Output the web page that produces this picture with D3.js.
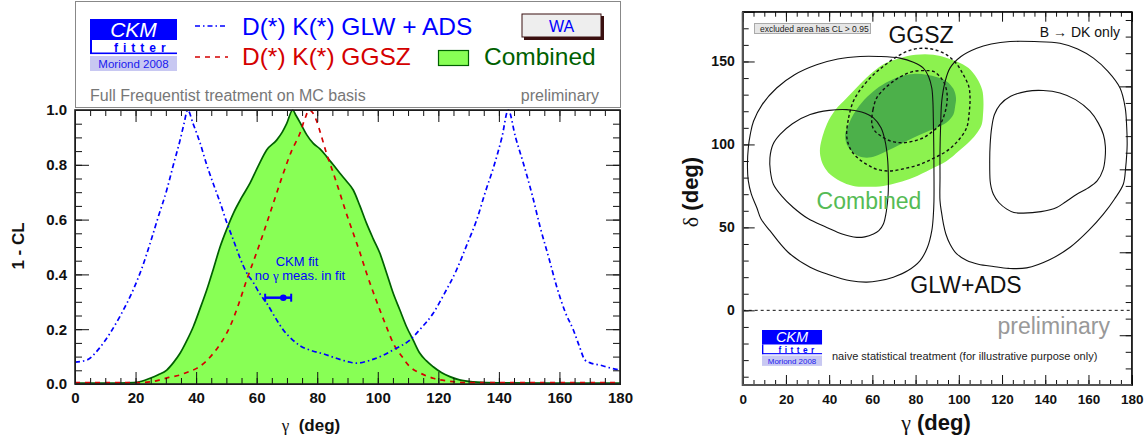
<!DOCTYPE html>
<html>
<head>
<meta charset="utf-8">
<script src="https://cdn.jsdelivr.net/npm/d3@7"></script>
<style>
body { margin: 0; background: #fff; }
svg { display: block; }
text { font-family: "Liberation Sans", Arial, Helvetica, sans-serif; }
</style>
</head>
<body>
<div id="main"></div>
<script>
// ---- left plot: 1 - CL vs gamma ----
var glwCurve = [[0,0.08],[4,0.088],[8,0.13],[11.6,0.186],[15,0.25],[19.2,0.343],[22,0.42],[24.8,0.513],[27.5,0.61],[30.3,0.708],[32.5,0.8],[34.7,0.89],[36,0.95],[37.2,1.0],[39,0.95],[41.3,0.88],[43.5,0.8],[45.7,0.73],[48,0.66],[50.1,0.59],[52.5,0.52],[54.5,0.46],[56.5,0.41],[58.9,0.37],[61,0.33],[63.3,0.295],[66,0.245],[68.8,0.197],[71.5,0.165],[74.3,0.14],[78,0.122],[82,0.11],[86,0.095],[90,0.082],[93,0.076],[97,0.085],[101.8,0.105],[106,0.13],[110.6,0.16],[114,0.2],[118.3,0.258],[122,0.33],[126,0.416],[129.5,0.51],[132.7,0.6],[135.5,0.7],[138.2,0.79],[141,0.9],[143.1,1.0],[145.5,0.9],[148.1,0.805],[151,0.69],[153.6,0.574],[156.5,0.46],[159.1,0.355],[162,0.26],[164.6,0.197],[166.5,0.14],[168.4,0.088],[170,0.078],[173.4,0.069],[177,0.058],[180,0.051]]
var ggszCurve = [[0,0.005],[10,0.005],[20,0.005],[25,0.008],[28,0.015],[31,0.024],[34.7,0.033],[37.5,0.045],[40.2,0.057],[43,0.08],[45.7,0.112],[48.5,0.155],[51.2,0.21],[54,0.29],[56.7,0.38],[59.5,0.465],[62.2,0.55],[65.5,0.66],[68.8,0.769],[71.5,0.85],[74.3,0.915],[76,0.97],[77.3,1.0],[78.5,0.99],[79.8,0.96],[81.5,0.9],[83.1,0.84],[85.3,0.77],[87.5,0.696],[89.7,0.62],[91.9,0.55],[94.1,0.48],[96.3,0.404],[98.5,0.335],[100.7,0.27],[103,0.205],[105.1,0.149],[108,0.1],[110.6,0.063],[114,0.04],[118.3,0.021],[123,0.011],[129.3,0.005],[180,0.005]]
var combCurve = [[0,0.003],[10,0.003],[19.3,0.005],[22,0.01],[24.8,0.021],[27.5,0.034],[30.3,0.051],[32.5,0.078],[34.7,0.112],[37,0.16],[39.1,0.21],[41.3,0.275],[43.5,0.343],[45.7,0.42],[47.9,0.5],[50.1,0.565],[52.3,0.623],[55,0.68],[57.8,0.733],[60.5,0.795],[63.3,0.854],[66.6,0.89],[68.5,0.92],[69.9,0.95],[71.9,1.0],[73,0.98],[74.3,0.955],[76.5,0.91],[78.7,0.878],[80.9,0.858],[83.1,0.83],[85.3,0.8],[87.5,0.769],[89.7,0.74],[91.9,0.708],[94.1,0.65],[96.3,0.586],[98.5,0.53],[100.7,0.477],[102.9,0.405],[105.1,0.331],[107.3,0.27],[109.5,0.209],[111.7,0.16],[113.9,0.112],[116,0.085],[118.3,0.063],[121,0.042],[123.8,0.027],[127,0.015],[131.5,0.008],[140,0.004],[180,0.003]]
var ckmFit = { gamma: 68.8, lo: 62.8, hi: 71.4, cl: 0.315 }

var gammaMajor = d3.range(0, 181, 20)
var gammaMinor = d3.range(0, 181, 5)
var clMajor = [0, 0.2, 0.4, 0.6, 0.8, 1.0]
var clMinor = d3.range(0, 1.001, 0.05)

// ---- right plot: delta vs gamma, contour outlines ----
var glwOuterLeft = [[2.2,88],[2.6,98],[3.5,106],[5,114],[9,124],[15.7,134],[24,142],[34.2,148],[44,151.5],[54.3,153],[63,153],[72.8,152],[79,149.5],[83.6,146],[86,141],[87.5,134],[88,126],[88.2,116],[88.4,100],[88.5,85],[88.5,66],[88.2,57],[87.5,48],[85.5,38],[82.1,30],[76.5,24],[69.7,20],[63,17.8],[57.4,17],[50,17.8],[40,21.5],[31.2,26],[21,35],[12.6,48],[8.5,55],[6.5,62],[4,70],[2.6,78]]
var glwInnerLeft = [[12.6,92],[14,100],[17.3,106],[23,112.5],[31.2,118],[40,120.5],[48.1,121],[55,119.5],[60.5,116],[64,110],[65.9,102],[67,92],[67.4,80],[67.3,70],[66.5,60],[65.1,52],[63,48],[60.5,46],[56.5,44.3],[52.8,44],[46,46],[38.9,50],[30,55.5],[23.4,62],[18,69],[14.2,76],[12.8,84]]
var glwOuterRight = [[91.3,66],[91.3,80],[91.3,96],[91.6,112],[92.1,126],[93.5,137],[95.9,146],[101,153],[108.3,158],[115,160.5],[123.7,162],[135,162],[146.8,161],[155,157.5],[162.3,152],[169,144],[174.6,134],[177,122],[177.7,110],[177.9,100],[177.7,94],[177.2,86],[176.1,76],[172,67],[166.9,58],[160,48],[151.5,38],[142,30.5],[131.4,25.6],[123,25.3],[116,26.4],[109,27.8],[103.7,30],[98.7,34.5],[95.9,40],[94,46],[92.9,52],[92,59]]
var glwInnerRight = [[114.5,78],[114.3,90],[114.5,100],[115.2,110],[116.5,118],[119.1,124],[124,129],[131.4,132],[139,132.5],[146.8,131],[154,127],[160.7,120],[164.5,113],[166.9,106],[167.8,99],[167.7,92],[166.8,85],[164,78],[159.5,73.5],[154.6,70],[149.5,65.5],[145.3,62],[138,59.5],[129.9,58.6],[125.5,59],[122.2,61],[118.5,65],[116,70],[115,74]]
var ggszOuter = [[48.1,106],[49,116],[51.2,126],[55,134],[60.5,142],[66,148],[72.8,154],[78,157],[83.6,158],[89,157],[94.4,154],[99,148.5],[102.1,142],[104.6,135],[105.2,128],[104.8,119],[103.6,110],[99.5,102],[94.4,96],[88,91.5],[82.1,88],[75,85.5],[68.2,84],[62,85],[57.4,88],[53.5,91.5],[50.4,96],[48.7,101]]
var ggszInner = [[59.7,114],[60.3,121],[62,128],[65.5,133.5],[69.7,138],[74,141.5],[79,144],[84,144.5],[88.2,144],[91.5,140.5],[93.6,136],[94.6,130],[94.4,124],[93.2,117.5],[91.3,112],[87.5,107.5],[83.6,104],[79,102],[74.3,101],[70,101.5],[66.6,103],[63.5,105.5],[61.2,108],[60,111]]
var comb95 = [[35.8,98],[38.9,112],[43,121],[48.1,128],[54,136],[60.5,144],[66,149],[72.8,152],[80,154],[88.2,154],[99,150],[104.5,146],[108.3,140],[110.8,133],[111.4,126],[111.2,118],[110.6,112],[108.5,107],[105.2,102],[100,96],[94.4,90],[87,85],[79,80],[72,77],[65.1,75],[58,74.5],[51.2,75],[45,78],[40.4,82],[37.5,87],[36.1,92]]
var comb68 = [[47.4,106],[49,112],[51.2,118],[55,125],[60.5,132],[66,137],[72.8,141],[79,142.5],[85.1,142],[90,140.5],[94.4,138],[97.5,133.5],[98.7,128],[98.3,123],[97.5,118],[95,114],[91.3,111],[85,107.5],[79,104],[72.8,100],[66.6,96],[61.5,93],[57.4,92],[53.5,93],[50.4,96],[48.2,100]]

var deltaMajor = [0, 50, 100, 150]
var deltaMinor = d3.range(-40, 171, 10)
var deltaRightMajor = [-15, 35, 85, 135]
var deltaRightMinor = d3.range(-35, 176, 10)

var font = '"Liberation Sans", Arial, Helvetica, sans-serif'
var blue = "#0000ff", red = "#d40000", dkgreen = "#006000", fillGreen = "#88ff55"

var svg = d3.select("#main").append("svg").attr("width", 1148).attr("height", 443)

function styleAxis(g, size, hideText) {
  g.select(".domain").remove()
  g.selectAll("line").attr("stroke", "#111").attr("stroke-width", 1)
  g.selectAll("text").attr("font-family", font).attr("font-weight", "bold").attr("font-size", size).attr("fill", "#111")
  if (hideText) g.selectAll("text").remove()
}

function drawLogo(x0, y0, s) {
  var g = svg.append("g").attr("transform", `translate(${x0},${y0}) scale(${s})`)
  g.append("rect").attr("width", 87).attr("height", 21).attr("fill", "#0000ff")
  g.append("text").attr("x", 43.5).attr("y", 17.5).attr("text-anchor", "middle")
    .attr("font-size", 21).attr("font-style", "italic").attr("fill", "white").text("CKM")
  g.append("rect").attr("y", 21).attr("width", 2).attr("height", 14).attr("fill", "#0000ff")
  g.append("rect").attr("y", 33.5).attr("width", 87).attr("height", 1.6).attr("fill", "#0000ff")
  g.append("text").attr("x", 24).attr("y", 33).attr("font-size", 12).attr("font-weight", "bold")
    .attr("letter-spacing", 5).attr("fill", "#0000ff").text("fitter")
  g.append("rect").attr("y", 37).attr("width", 87).attr("height", 15).attr("fill", "#c8c8f2")
  g.append("text").attr("x", 43.5).attr("y", 49).attr("text-anchor", "middle")
    .attr("font-size", 11.5).attr("fill", "#1a1aee").text("Moriond 2008")
}

// ================= LEFT PANEL =================
var xL = d3.scaleLinear().domain([0, 180]).range([75, 620])
var yL = d3.scaleLinear().domain([0, 1]).range([384, 110])

// legend box
svg.append("rect").attr("x", 75.5).attr("y", 1.5).attr("width", 545).attr("height", 106)
  .attr("fill", "white").attr("stroke", "#888").attr("stroke-width", 1)
drawLogo(90, 19, 1)

svg.append("line").attr("x1", 195).attr("x2", 228).attr("y1", 26).attr("y2", 26)
  .attr("stroke", blue).attr("stroke-width", 1.5).attr("stroke-dasharray", "5,3,1.5,3")
svg.append("text").attr("x", 242).attr("y", 35).attr("font-size", 24.5).attr("fill", blue).text("D(*) K(*) GLW + ADS")
svg.append("line").attr("x1", 195).attr("x2", 228).attr("y1", 57).attr("y2", 57)
  .attr("stroke", red).attr("stroke-width", 1.5).attr("stroke-dasharray", "5,5")
svg.append("text").attr("x", 242).attr("y", 65).attr("font-size", 24.5).attr("fill", red).text("D(*) K(*) GGSZ")
svg.append("rect").attr("x", 438.5).attr("y", 50.5).attr("width", 30).attr("height", 15)
  .attr("fill", fillGreen).attr("stroke", dkgreen).attr("stroke-width", 1.2)
svg.append("text").attr("x", 484).attr("y", 65).attr("font-size", 24.5).attr("fill", dkgreen).text("Combined")

// WA button
svg.append("rect").attr("x", 524).attr("y", 16).attr("width", 80).attr("height", 24).attr("fill", "#3a1010")
svg.append("rect").attr("x", 522).attr("y", 14).attr("width", 79).attr("height", 23)
  .attr("fill", "#eeeeee").attr("stroke", "#3a1010").attr("stroke-width", 1)
svg.append("text").attr("x", 561.5).attr("y", 32).attr("text-anchor", "middle").attr("font-size", 16)
  .attr("fill", blue).text("WA")

svg.append("text").attr("x", 90).attr("y", 101).attr("font-size", 16).attr("fill", "#777").text("Full Frequentist treatment on MC basis")
svg.append("text").attr("x", 599).attr("y", 101).attr("text-anchor", "end").attr("font-size", 16).attr("fill", "#777").text("preliminary")

// plot area
svg.append("clipPath").attr("id", "clipL").append("rect")
  .attr("x", 75).attr("y", 109).attr("width", 545).attr("height", 276)
var plotL = svg.append("g").attr("clip-path", "url(#clipL)")

var area = d3.area().x(d => xL(d[0])).y0(yL(0)).y1(d => yL(d[1])).curve(d3.curveMonotoneX)
var lineL = d3.line().x(d => xL(d[0])).y(d => yL(d[1])).curve(d3.curveMonotoneX)

plotL.append("path").datum(combCurve).attr("d", area).attr("fill", fillGreen)
plotL.append("path").datum(combCurve).attr("d", lineL).attr("fill", "none").attr("stroke", dkgreen).attr("stroke-width", 1.7)
plotL.append("path").datum(ggszCurve).attr("d", lineL).attr("fill", "none").attr("stroke", red)
  .attr("stroke-width", 1.7).attr("stroke-dasharray", "5,5")
plotL.append("path").datum(glwCurve).attr("d", lineL).attr("fill", "none").attr("stroke", blue)
  .attr("stroke-width", 1.7).attr("stroke-dasharray", "5,3,1.5,3")

// CKM fit marker
plotL.append("line").attr("x1", xL(ckmFit.lo)).attr("x2", xL(ckmFit.hi))
  .attr("y1", yL(ckmFit.cl)).attr("y2", yL(ckmFit.cl)).attr("stroke", blue).attr("stroke-width", 2.5)
;[ckmFit.lo, ckmFit.hi].forEach(v => {
  plotL.append("line").attr("x1", xL(v)).attr("x2", xL(v))
    .attr("y1", yL(ckmFit.cl) - 4).attr("y2", yL(ckmFit.cl) + 4).attr("stroke", blue).attr("stroke-width", 2)
})
plotL.append("circle").attr("cx", xL(ckmFit.gamma)).attr("cy", yL(ckmFit.cl)).attr("r", 3.3).attr("fill", blue)
svg.append("text").attr("x", 297).attr("y", 266).attr("text-anchor", "middle").attr("font-size", 13).attr("fill", blue).text("CKM fit")
var t2 = svg.append("text").attr("x", 300).attr("y", 279.5).attr("text-anchor", "middle").attr("font-size", 13).attr("fill", blue)
t2.append("tspan").text("no ")
t2.append("tspan").attr("font-family", '"Liberation Serif", serif').text("γ")
t2.append("tspan").text(" meas. in fit")

// axes left panel
var axB = svg.append("g").attr("transform", "translate(0,384)")
axB.append("g").call(d3.axisBottom(xL).tickValues(gammaMinor).tickSize(-6).tickFormat(""))
axB.append("g").call(d3.axisBottom(xL).tickValues(gammaMajor).tickSize(-12).tickPadding(8).tickFormat(d3.format("d")))
styleAxis(axB, 15)
var axT = svg.append("g").attr("transform", "translate(0,110)")
axT.append("g").call(d3.axisBottom(xL).tickValues(gammaMinor).tickSize(6).tickFormat(""))
axT.append("g").call(d3.axisBottom(xL).tickValues(gammaMajor).tickSize(12).tickFormat(""))
styleAxis(axT, 15, true)
var axLf = svg.append("g").attr("transform", "translate(75,0)")
axLf.append("g").call(d3.axisLeft(yL).tickValues(clMinor).tickSize(-7).tickFormat(""))
axLf.append("g").call(d3.axisLeft(yL).tickValues(clMajor).tickSize(-14).tickPadding(8).tickFormat(d3.format(".1f")))
styleAxis(axLf, 15)
var axRt = svg.append("g").attr("transform", "translate(620,0)")
axRt.append("g").call(d3.axisLeft(yL).tickValues(clMinor).tickSize(7).tickFormat(""))
axRt.append("g").call(d3.axisLeft(yL).tickValues(clMajor).tickSize(14).tickFormat(""))
styleAxis(axRt, 15, true)

svg.append("rect").attr("x", 75).attr("y", 110).attr("width", 545).attr("height", 274)
  .attr("fill", "none").attr("stroke", "#222").attr("stroke-width", 1.6)

var xt = svg.append("text").attr("x", 311).attr("y", 431).attr("text-anchor", "middle").attr("font-size", 17).attr("fill", "#111")
xt.append("tspan").attr("font-family", '"Liberation Serif", serif').text("γ")
xt.append("tspan").attr("font-weight", "bold").text("\u00a0\u00a0(deg)")
svg.append("text").attr("transform", "translate(24,246) rotate(-90)").attr("text-anchor", "middle")
  .attr("font-size", 17).attr("font-weight", "bold").attr("fill", "#111").text("1 - CL")

// ================= RIGHT PANEL =================
var xR = d3.scaleLinear().domain([0, 180]).range([742.7, 1131.7])
var yR = d3.scaleLinear().domain([-45, 180]).range([385, 11.7])

svg.append("clipPath").attr("id", "clipR").append("rect")
  .attr("x", xR(0)).attr("y", yR(180)).attr("width", xR(180) - xR(0)).attr("height", yR(-45) - yR(180))
var plotR = svg.append("g").attr("clip-path", "url(#clipR)")
var contour = d3.line().x(d => xR(d[0])).y(d => yR(d[1])).curve(d3.curveCatmullRomClosed.alpha(0.5))

plotR.append("path").datum(comb95).attr("d", contour).attr("fill", "#8cf24f")
plotR.append("path").datum(comb68).attr("d", contour).attr("fill", "#4cb04a")
;[ggszOuter, ggszInner].forEach(c => {
  plotR.append("path").datum(c).attr("d", contour).attr("fill", "none")
    .attr("stroke", "#111").attr("stroke-width", 1.4).attr("stroke-dasharray", "3,2.5")
})
;[glwOuterLeft, glwInnerLeft, glwOuterRight, glwInnerRight].forEach(c => {
  plotR.append("path").datum(c).attr("d", contour).attr("fill", "none")
    .attr("stroke", "#111").attr("stroke-width", 1.1)
})
plotR.append("line").attr("x1", xR(0)).attr("x2", xR(180)).attr("y1", yR(0)).attr("y2", yR(0))
  .attr("stroke", "#111").attr("stroke-width", 1).attr("stroke-dasharray", "3,3")

// axes right panel
var rB = svg.append("g").attr("transform", `translate(0,${yR(-45)})`)
rB.append("g").call(d3.axisBottom(xR).tickValues(gammaMinor).tickSize(-5).tickFormat(""))
rB.append("g").call(d3.axisBottom(xR).tickValues(gammaMajor).tickSize(-10).tickPadding(9).tickFormat(d3.format("d")))
styleAxis(rB, 13.5)
var rT = svg.append("g").attr("transform", `translate(0,${yR(180)})`)
rT.append("g").call(d3.axisBottom(xR).tickValues(gammaMinor).tickSize(5).tickFormat(""))
rT.append("g").call(d3.axisBottom(xR).tickValues(gammaMajor).tickSize(10).tickFormat(""))
styleAxis(rT, 13.5, true)
var rL = svg.append("g").attr("transform", `translate(${xR(0)},0)`)
rL.append("g").call(d3.axisLeft(yR).tickValues(deltaMinor).tickSize(-6).tickFormat(""))
rL.append("g").call(d3.axisLeft(yR).tickValues(deltaMajor).tickSize(-12).tickPadding(8).tickFormat(d3.format("d")))
styleAxis(rL, 14)
var rR = svg.append("g").attr("transform", `translate(${xR(180)},0)`)
rR.append("g").call(d3.axisLeft(yR).tickValues(deltaRightMinor).tickSize(6).tickFormat(""))
rR.append("g").call(d3.axisLeft(yR).tickValues(deltaRightMajor).tickSize(12).tickFormat(""))
styleAxis(rR, 14, true)

svg.append("rect").attr("x", xR(0)).attr("y", yR(180)).attr("width", xR(180) - xR(0)).attr("height", yR(-45) - yR(180))
  .attr("fill", "none").attr("stroke", "#111").attr("stroke-width", 1.2)
svg.append("path").attr("d", `M${xR(0)},${yR(180)}V${yR(-45)}H${xR(180)}`)
  .attr("fill", "none").attr("stroke", "#555").attr("stroke-width", 2)

// right panel labels
svg.append("rect").attr("x", 754.5).attr("y", 23.5).attr("width", 116).attr("height", 10)
  .attr("fill", "#e6e6e6").attr("stroke", "#aaa").attr("stroke-width", 1)
svg.append("text").attr("x", 760).attr("y", 31.5).attr("font-size", 8.5).attr("fill", "#222").text("excluded area has CL > 0.95")
svg.append("text").attr("x", 921).attr("y", 43).attr("text-anchor", "middle").attr("font-size", 23).attr("fill", "#111").text("GGSZ")
svg.append("text").attr("x", 1120).attr("y", 37).attr("text-anchor", "end").attr("font-size", 14).attr("fill", "#111").text("B \u2192 DK only")
svg.append("text").attr("x", 869).attr("y", 209).attr("text-anchor", "middle").attr("font-size", 23).attr("fill", "#55bb55").text("Combined")
svg.append("text").attr("x", 966).attr("y", 293).attr("text-anchor", "middle").attr("font-size", 23).attr("fill", "#111").text("GLW+ADS")
svg.append("text").attr("x", 1110).attr("y", 334).attr("text-anchor", "end").attr("font-size", 23).attr("fill", "#999").text("preliminary")
svg.append("text").attr("x", 832).attr("y", 360).attr("font-size", 11).attr("fill", "#222").text("naive statistical treatment (for illustrative purpose only)")
drawLogo(762, 330, 0.69)

var xt2 = svg.append("text").attr("x", 936).attr("y", 430).attr("text-anchor", "middle").attr("font-size", 22).attr("fill", "#111")
xt2.append("tspan").attr("font-family", '"Liberation Serif", serif').text("γ")
xt2.append("tspan").attr("font-weight", "bold").text(" (deg)")
var yt2 = svg.append("text").attr("transform", "translate(698,192) rotate(-90)").attr("text-anchor", "middle")
  .attr("font-size", 22).attr("fill", "#111")
yt2.append("tspan").attr("font-family", '"Liberation Serif", serif').text("δ")
yt2.append("tspan").attr("font-weight", "bold").text(" (deg)")
</script>
</body>
</html>
